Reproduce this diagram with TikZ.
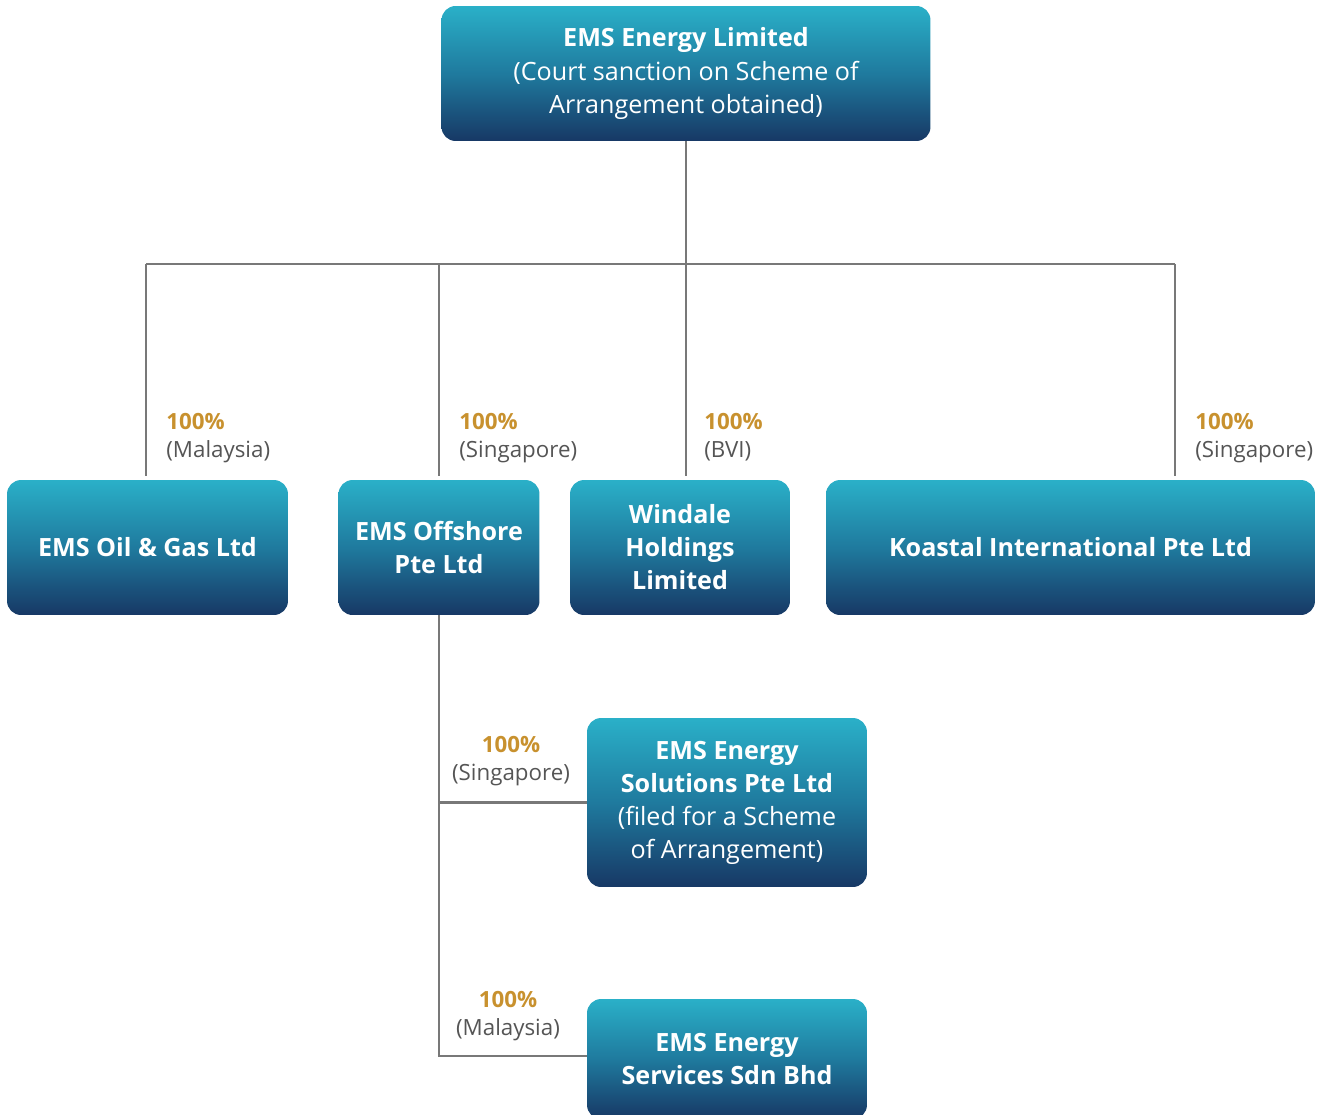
\documentclass[tikz,border=0pt]{standalone}
\usepackage{fontspec}
\setmainfont{Open Sans}
\usepackage{tikz}
\usepackage{xcolor}
\definecolor{ColTop}{RGB}{42,176,200}
\definecolor{ColMid}{RGB}{31,122,158}
\definecolor{ColBot}{RGB}{23,56,101}
\definecolor{ColPct}{RGB}{200,145,46}
\definecolor{ColLine}{RGB}{120,120,120}
\definecolor{ColText}{RGB}{85,85,85}
\tikzstyle{BoxOrg}=[rectangle,rounded corners=8pt,top color=ColTop,bottom color=ColBot,
middle color=ColMid,text=white,align=center,inner sep=2pt,minimum height=2.7cm,
font=\fontsize{14.3}{18.8}\selectfont]
\tikzstyle{LinkOrg}=[ColLine,line width=1.6pt]
\tikzstyle{LabelOrg}=[text=ColText,inner sep=0pt,font=\fontsize{12.7}{16}\selectfont]
\newcommand{\pct}{\textcolor{ColPct}{\textbf{100\%}}}

\begin{document}
\begin{tikzpicture}[x=0.02cm,y=-0.02cm]
        \useasboundingbox[fill=white](0,0)rectangle(1329,1115);
        % boxes
        \node[BoxOrg,minimum width=9.78cm](ems)at(686,73.5){\textbf{EMS Energy Limited}\\(Court sanction on Scheme of\\Arrangement obtained)};
        \node[BoxOrg,minimum width=5.62cm](oil)at(147.5,547.5){\textbf{EMS Oil \& Gas Ltd}};
        \node[BoxOrg,minimum width=4.02cm](off)at(439,547.5){\textbf{EMS Offshore}\\\textbf{Pte Ltd}};
        \node[BoxOrg,minimum width=4.4cm](wind)at(680,547.5){\textbf{Windale}\\\textbf{Holdings}\\\textbf{Limited}};
        \node[BoxOrg,minimum width=9.78cm](koast)at(1070.5,547.5){\textbf{Koastal International Pte Ltd}};
        \node[BoxOrg,minimum width=5.6cm,minimum height=3.38cm](sol)at(727,802.5){\textbf{EMS Energy}\\\textbf{Solutions Pte Ltd}\\(filed for a Scheme\\of Arrangement)};
        \node[BoxOrg,minimum width=5.6cm,minimum height=2.4cm](serv)at(727,1059){\textbf{EMS Energy}\\\textbf{Services Sdn Bhd}};
        % junctions
        \coordinate(ja)at(146,264);
        \coordinate(jb)at(439,264);
        \coordinate(jc)at(686,264);
        \coordinate(jd)at(1175,264);
        \coordinate(je)at(439,1056);
        \draw[LinkOrg](ems.south)--(jc);
        \draw[LinkOrg](ja)--(jd);
        \draw[LinkOrg](ja)--([yshift=2pt]ja|-oil.north);
        \draw[LinkOrg](jb)--([yshift=2pt]jb|-off.north);
        \draw[LinkOrg](jc)--([yshift=2pt]jc|-wind.north);
        \draw[LinkOrg](jd)--([yshift=2pt]jd|-koast.north);
        \draw[LinkOrg](off.south)--(je)--(je-|serv.west);
        \draw[LinkOrg](off.south|-sol.west)--(sol.west);
        % labels
        \node[LabelOrg,anchor=west,align=left](la)at(166,438){\pct\\(Malaysia)};
        \node[LabelOrg,anchor=west,align=left](lb)at(459,438){\pct\\(Singapore)};
        \node[LabelOrg,anchor=west,align=left](lc)at(704,437){\pct\\(BVI)};
        \node[LabelOrg,anchor=west,align=left](ld)at(1195,438){\pct\\(Singapore)};
        \node[LabelOrg,align=center](le)at(511,761){\pct\\(Singapore)};
        \node[LabelOrg,align=center](lf)at(508,1016){\pct\\(Malaysia)};
    \end{tikzpicture}
\end{document}
